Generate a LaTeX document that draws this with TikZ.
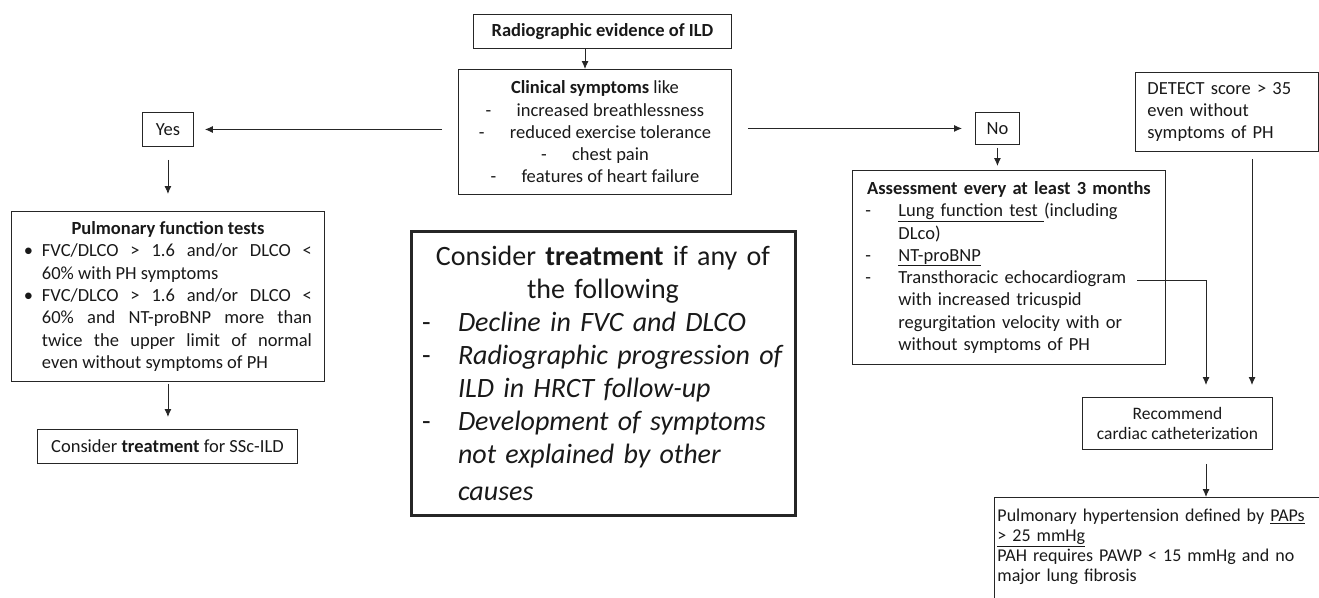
\documentclass[tikz,border=0pt]{standalone}
\usepackage{fontspec}
\setmainfont{Carlito}
\usepackage{xcolor}
\usetikzlibrary{arrows.meta}

\begin{document}
\begin{tikzpicture}[x=1pt, y=-1pt,
	box/.style={draw=black!85, line width=0.9pt, text=black!90, inner sep=0pt, anchor=north west, font=\fontsize{18.5}{22.3}\selectfont},
	bigbox/.style={box, line width=3pt, font=\fontsize{28}{33}\selectfont},
	arr/.style={-{Latex[length=8pt,width=7pt]}, line width=0.9pt, draw=black!85}]
	\useasboundingbox (0,0) rectangle (1319,597);
	\clip (0,0) rectangle (1319,597);
	
	% Ramo central
	\node[box, minimum width=258, minimum height=34] (rad) at (473,14) {\textbf{Radiographic evidence of ILD}};
	\node[box, minimum width=273, minimum height=125, align=center] (clin) at (458,69) {\textbf{Clinical symptoms} like\\
		\makebox[31pt][l]{-}increased breathlessness\\
		\makebox[31pt][l]{-}reduced exercise tolerance\\
		\makebox[31pt][l]{-}chest pain\\
		\makebox[31pt][l]{-}features of heart failure};
	
	% Ramo Yes
	\node[box, minimum width=51, minimum height=34] (yes) at (142,112) {Yes};
	\node[box, minimum width=313, minimum height=170, text width=288pt, align=justify] (pulm) at (11,211) {%
		{\noindent\hspace*{\fill}\textbf{Pulmonary function tests}\hspace*{\fill}\par}
		\hangindent=18pt\hangafter=1\noindent\makebox[18pt][l]{\textbullet}FVC/DLCO > 1.6 and/or DLCO <\linebreak 60\% with PH symptoms\par
		\hangindent=18pt\hangafter=1\noindent\makebox[18pt][l]{\textbullet}FVC/DLCO > 1.6 and/or DLCO <\linebreak 60\% and NT-proBNP more than\linebreak twice the upper limit of normal\linebreak even without symptoms of PH\par};
	\node[box, minimum width=260, minimum height=34] (treat) at (37,429) {Consider \textbf{treatment} for SSc-ILD};
	
	% Caixa central
	\node[bigbox, minimum width=384, minimum height=284, text width=362pt, align=left] (cons) at (409.5,229.5) {%
		\makebox[362pt][c]{Consider \textbf{treatment} if any of}\\
		\makebox[362pt][c]{the following}\\
		\makebox[36pt][l]{-}\mbox{\textit{Decline in FVC and DLCO}}\\
		\makebox[36pt][l]{-}\mbox{\textit{Radiographic progression of}}\\
		\hspace*{36pt}\mbox{\textit{ILD in HRCT follow-up}}\\
		\makebox[36pt][l]{-}\mbox{\textit{Development of symptoms}}\\
		\hspace*{36pt}\mbox{\textit{not explained by other}}\\[4pt]
		\hspace*{36pt}\mbox{\textit{causes}}};
	
	% Ramo No
	\node[box, minimum width=44, minimum height=32] (no) at (975,112) {No};
	\node[box, minimum width=313, minimum height=194, text width=287pt, align=left] (assess) at (852,170) {%
		\makebox[287pt][c]{\textbf{Assessment every at least 3 months}}\\
		\makebox[33pt][l]{-}\underline{Lung function test\ }(including\\
		\hspace*{33pt}DLco)\\
		\makebox[33pt][l]{-}\underline{NT-proBNP}\\
		\makebox[33pt][l]{-}Transthoracic echocardiogram\\
		\hspace*{33pt}with increased tricuspid\\
		\hspace*{33pt}regurgitation velocity with or\\
		\hspace*{33pt}without symptoms of PH};
	\node[box, minimum width=183, minimum height=79, text width=159pt, align=left] (detect) at (1135,72) {DETECT score > 35\\ even without\\ symptoms of PH};
	\node[box, minimum width=190, minimum height=52, align=center, font=\fontsize{17.5}{20}\selectfont] (recom) at (1082,397) {Recommend\\ cardiac catheterization};
	
	% Definição de PH
	\node[box, draw=none, inner xsep=3pt, inner ysep=12pt, text width=334pt, align=left, font=\fontsize{18}{20}\selectfont] (pah) at (994,497) {Pulmonary hypertension defined by \underline{PAPs}\\
		\underline{> 25 mmHg}\\
		PAH requires PAWP < 15 mmHg and no\\
		major lung fibrosis};
	\draw[line width=0.9pt, draw=black!85] (pah.north west) rectangle ++(340,130);
	
	% Setas
	\coordinate (rx) at (585,0);
	\coordinate (echo) at (1137,280);
	\coordinate (bend) at (1206,280);
	\coordinate (dx) at (1252,0);
	
	\draw[arr] (rad.south -| rx) -- (clin.north -| rx);
	\draw[arr, shorten <=16pt, shorten >=11pt] (clin.west |- yes) -- (yes.east);
	\draw[arr, shorten <=13pt, shorten >=17pt] (yes.south) -- (pulm.north);
	\draw[arr, shorten <=2pt, shorten >=12pt] (pulm.south) -- (pulm.south |- treat.north);
	\draw[arr, shorten <=16pt, shorten >=13pt] (clin.east |- no) -- (no.west);
	\draw[arr, shorten <=3pt, shorten >=4pt] (no.south) -- (no.south |- assess.north);
	\draw[arr, shorten >=12pt] (echo) -- (bend) -- (bend |- recom.north);
	\draw[arr, shorten <=7pt, shorten >=12pt] (detect.south -| dx) -- (recom.north -| dx);
	\draw[arr, shorten <=14pt] (recom.south -| bend) -- (pah.north -| bend);
\end{tikzpicture}
\end{document}
